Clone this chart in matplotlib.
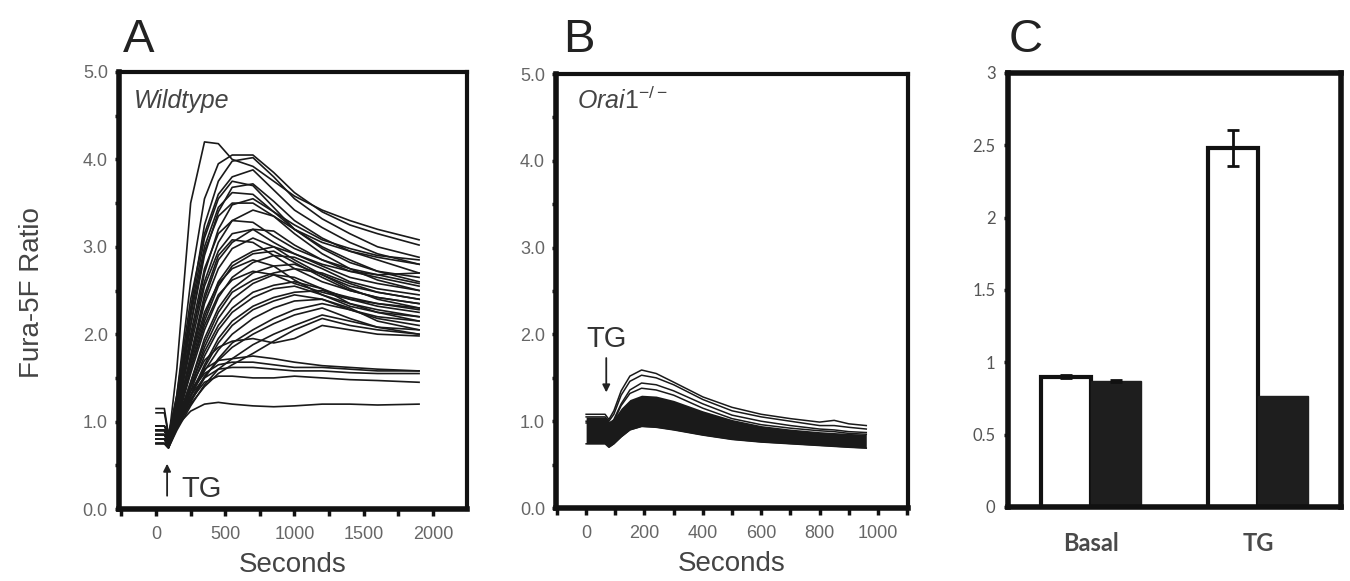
import numpy as np
import matplotlib
matplotlib.use("Agg")
import matplotlib.pyplot as plt
from matplotlib.ticker import MultipleLocator, FormatStrFormatter

plt.rcParams['font.family'] = ['Liberation Sans', 'DejaVu Sans']
plt.rcParams['mathtext.fontset'] = 'custom'
plt.rcParams['mathtext.it'] = 'Liberation Sans:italic'
plt.rcParams['mathtext.rm'] = 'Liberation Sans'

# ---------------- data ----------------
# panel A: wildtype traces, Fura-5F ratio sampled at t_wt (s)
t_wt = [0, 60, 90, 150, 250, 350, 450, 550, 700, 850, 1000, 1200, 1400, 1600, 1900]
wt_traces = [
    [0.85, 0.85, 0.78, 1.60, 3.50, 4.20, 4.18, 4.00, 3.92, 3.75, 3.58, 3.42, 3.30, 3.20, 3.08],
    [0.90, 0.90, 0.80, 1.30, 2.60, 3.55, 3.95, 4.05, 4.05, 3.85, 3.62, 3.40, 3.25, 3.15, 3.02],
    [0.80, 0.80, 0.74, 1.20, 2.30, 3.25, 3.75, 3.98, 4.02, 3.80, 3.55, 3.32, 3.15, 3.00, 2.88],
    [0.95, 0.95, 0.85, 1.30, 2.40, 3.15, 3.60, 3.80, 3.88, 3.65, 3.42, 3.22, 3.05, 2.92, 2.80],
    [0.85, 0.85, 0.78, 1.20, 2.10, 2.90, 3.40, 3.68, 3.72, 3.52, 3.30, 3.10, 2.95, 2.85, 2.70],
    [0.80, 0.80, 0.72, 1.10, 1.90, 2.70, 3.20, 3.48, 3.55, 3.40, 3.20, 3.00, 2.85, 2.72, 2.60],
    [0.90, 0.90, 0.82, 1.15, 1.95, 2.60, 3.05, 3.30, 3.42, 3.35, 3.15, 2.92, 2.75, 2.62, 2.50],
    [0.75, 0.75, 0.70, 1.10, 2.00, 2.75, 3.15, 3.30, 3.28, 3.12, 2.98, 2.85, 2.75, 2.68, 2.58],
    [0.85, 0.85, 0.78, 1.05, 1.75, 2.40, 2.85, 3.05, 3.20, 3.18, 3.02, 2.85, 2.72, 2.65, 2.55],
    [0.80, 0.80, 0.74, 1.05, 1.70, 2.35, 2.75, 2.98, 3.10, 3.00, 2.85, 2.68, 2.55, 2.48, 2.40],
    [0.90, 0.90, 0.80, 1.10, 1.65, 2.20, 2.60, 2.82, 2.95, 3.00, 2.92, 2.78, 2.65, 2.58, 2.50],
    [0.75, 0.75, 0.70, 1.00, 1.60, 2.15, 2.55, 2.78, 2.92, 2.95, 2.82, 2.65, 2.50, 2.42, 2.35],
    [0.85, 0.85, 0.76, 1.00, 1.55, 2.05, 2.42, 2.65, 2.82, 2.90, 2.88, 2.75, 2.60, 2.52, 2.45],
    [0.95, 0.95, 0.88, 1.10, 1.70, 2.25, 2.58, 2.75, 2.85, 2.78, 2.62, 2.45, 2.32, 2.25, 2.20],
    [0.80, 0.80, 0.72, 0.98, 1.45, 1.95, 2.30, 2.52, 2.70, 2.78, 2.80, 2.68, 2.52, 2.40, 2.30],
    [0.85, 0.85, 0.78, 1.00, 1.45, 1.90, 2.25, 2.48, 2.62, 2.70, 2.75, 2.70, 2.58, 2.48, 2.40],
    [0.75, 0.75, 0.70, 0.95, 1.40, 1.85, 2.18, 2.40, 2.58, 2.68, 2.65, 2.52, 2.40, 2.32, 2.25],
    [0.90, 0.90, 0.82, 1.00, 1.40, 1.80, 2.10, 2.30, 2.48, 2.56, 2.60, 2.52, 2.35, 2.25, 2.15],
    [0.80, 0.80, 0.72, 0.95, 1.35, 1.75, 2.05, 2.25, 2.42, 2.52, 2.55, 2.45, 2.35, 2.28, 2.20],
    [0.85, 0.85, 0.76, 0.95, 1.30, 1.65, 1.95, 2.15, 2.32, 2.42, 2.48, 2.50, 2.42, 2.35, 2.30],
    [0.75, 0.75, 0.70, 0.92, 1.28, 1.62, 1.90, 2.10, 2.28, 2.38, 2.45, 2.40, 2.28, 2.18, 2.10],
    [0.90, 0.90, 0.80, 0.98, 1.30, 1.58, 1.82, 2.00, 2.18, 2.30, 2.38, 2.40, 2.30, 2.15, 2.05],
    [0.80, 0.80, 0.74, 0.92, 1.22, 1.50, 1.72, 1.90, 2.05, 2.18, 2.28, 2.35, 2.28, 2.20, 2.15],
    [0.85, 0.85, 0.78, 0.95, 1.25, 1.52, 1.70, 1.85, 2.00, 2.12, 2.22, 2.30, 2.18, 2.08, 2.00],
    [0.75, 0.75, 0.70, 0.90, 1.18, 1.42, 1.60, 1.72, 1.88, 2.00, 2.10, 2.22, 2.15, 2.08, 2.05],
    [0.90, 0.90, 0.82, 0.95, 1.20, 1.40, 1.55, 1.65, 1.78, 1.92, 2.05, 2.18, 2.10, 2.05, 2.00],
    [0.85, 0.85, 0.76, 1.20, 2.20, 3.00, 3.45, 3.62, 3.60, 3.40, 3.25, 3.08, 2.98, 2.90, 2.85],
    [0.80, 0.80, 0.72, 1.15, 2.10, 2.95, 3.35, 3.50, 3.50, 3.35, 3.20, 3.05, 2.95, 2.88, 2.80],
    [0.95, 0.95, 0.86, 1.25, 2.25, 3.10, 3.55, 3.75, 3.70, 3.45, 3.20, 2.98, 2.82, 2.72, 2.65],
    [0.85, 0.85, 0.78, 1.10, 1.85, 2.55, 2.95, 3.15, 3.20, 3.05, 2.92, 2.80, 2.72, 2.68, 2.70],
    [0.80, 0.80, 0.74, 1.05, 1.75, 2.45, 2.90, 3.08, 3.05, 2.90, 2.75, 2.60, 2.50, 2.42, 2.35],
    [0.90, 0.90, 0.82, 1.05, 1.60, 2.10, 2.45, 2.62, 2.72, 2.68, 2.58, 2.48, 2.40, 2.35, 2.28],
    [1.15, 1.15, 0.85, 1.05, 1.35, 1.55, 1.65, 1.68, 1.68, 1.65, 1.62, 1.62, 1.60, 1.58, 1.58],
    [0.85, 0.85, 0.78, 1.00, 1.30, 1.50, 1.60, 1.62, 1.62, 1.60, 1.58, 1.58, 1.56, 1.55, 1.55],
    [0.80, 0.80, 0.74, 0.95, 1.25, 1.45, 1.52, 1.52, 1.50, 1.50, 1.52, 1.50, 1.48, 1.47, 1.45],
    [1.10, 1.10, 0.85, 0.95, 1.12, 1.20, 1.22, 1.20, 1.18, 1.17, 1.18, 1.20, 1.20, 1.19, 1.20],
    [0.90, 0.90, 0.80, 1.00, 1.35, 1.60, 1.70, 1.72, 1.75, 1.72, 1.68, 1.64, 1.62, 1.60, 1.58],
    [0.85, 0.85, 0.76, 1.00, 1.40, 1.70, 1.85, 1.92, 1.95, 1.90, 1.95, 2.10, 2.05, 2.00, 1.98],
]

# panel B: Orai1-/- traces sampled at t_ko (s)
t_ko = [0, 65, 78, 95, 120, 150, 190, 240, 300, 400, 500, 600, 700, 800, 850, 900, 960]
ko_traces = [
    [1.08, 1.08, 1.02, 1.12, 1.35, 1.52, 1.59, 1.55, 1.45, 1.28, 1.16, 1.08, 1.03, 0.99, 1.01, 0.97, 0.95],
    [1.05, 1.05, 1.00, 1.08, 1.30, 1.46, 1.53, 1.50, 1.42, 1.25, 1.12, 1.05, 1.00, 0.95, 0.95, 0.93, 0.91],
    [1.00, 1.00, 0.95, 1.02, 1.20, 1.36, 1.44, 1.42, 1.35, 1.20, 1.07, 1.00, 0.95, 0.91, 0.90, 0.88, 0.87],
    [0.98, 0.98, 0.92, 1.00, 1.18, 1.32, 1.38, 1.36, 1.30, 1.15, 1.03, 0.96, 0.92, 0.89, 0.88, 0.86, 0.85],
]
ko_band_low = [0.74, 0.74, 0.70, 0.74, 0.82, 0.90, 0.94, 0.93, 0.90, 0.84, 0.79, 0.76, 0.74, 0.72, 0.71, 0.70, 0.69]
ko_band_high = [1.05, 1.05, 1.00, 1.03, 1.15, 1.25, 1.30, 1.29, 1.24, 1.12, 1.02, 0.95, 0.91, 0.88, 0.87, 0.86, 0.85]

# panel C: bar summary
categories = ['Basal', 'TG']
wt_mean = [0.90, 2.48]
wt_err = [0.01, 0.125]
ko_mean = [0.87, 0.77]
ko_err = [0.008, 0.0]

tg_time_wt = 80
tg_time_ko = 69

# ---------------- figure ----------------
fig = plt.figure(figsize=(13.5, 5.81), dpi=100)
axA = fig.add_axes([0.0881, 0.1239, 0.2578, 0.7522])
axB = fig.add_axes([0.4119, 0.1256, 0.2607, 0.7470])
axC = fig.add_axes([0.7467, 0.1274, 0.2467, 0.7470])

tick_col = '#666666'
line_col = '#1a1a1a'


def style_trace_axes(ax, xmaj, xmin):
    for s in ['left', 'bottom']:
        ax.spines[s].set_linewidth(4)
    for s in ['top', 'right']:
        ax.spines[s].set_linewidth(3)
    for s in ax.spines.values():
        s.set_color('#111111')
    ax.set_ylim(0, 5)
    ax.yaxis.set_major_locator(MultipleLocator(1))
    ax.yaxis.set_minor_locator(MultipleLocator(0.5))
    ax.yaxis.set_major_formatter(FormatStrFormatter('%.1f'))
    ax.xaxis.set_major_locator(MultipleLocator(xmaj))
    ax.xaxis.set_minor_locator(MultipleLocator(xmin))
    ax.tick_params(axis='y', which='both', direction='out', length=3, width=2.5,
                   color='#111111', labelcolor=tick_col, labelsize=13, pad=5)
    ax.tick_params(axis='x', which='both', direction='out', length=5, width=2.5,
                   color='#111111', labelcolor=tick_col, labelsize=13, pad=7)
    ax.set_xlabel('Seconds', fontsize=20, color='#444444', labelpad=7)


# panel A
for tr in wt_traces:
    axA.plot(t_wt, tr, color=line_col, lw=1.2)
axA.set_xlim(-268, 2246)
style_trace_axes(axA, 500, 250)
axA.text(0.043, 0.918, 'Wildtype', transform=axA.transAxes, fontsize=18,
         style='italic', color='#444444', va='baseline')
axA.annotate('', xy=(tg_time_wt, 0.55), xytext=(tg_time_wt, 0.12),
             arrowprops=dict(arrowstyle='-|>', lw=1.3, color='#222222', mutation_scale=11))
axA.text(181, 0.14, 'TG', fontsize=21, color='#333333', va='baseline')

# panel B
axB.fill_between(t_ko, ko_band_low, ko_band_high, color=line_col, lw=0)
for tr in ko_traces:
    axB.plot(t_ko, tr, color=line_col, lw=1.1)
axB.plot(t_ko, ko_band_low, color=line_col, lw=1.1)
axB.set_xlim(-103, 1103)
style_trace_axes(axB, 200, 100)
axB.text(0.06, 0.92, r'$\mathit{Orai1}^{\mathit{-/-}}$', transform=axB.transAxes,
         fontsize=18, color='#444444', va='baseline')
axB.annotate('', xy=(tg_time_ko, 1.30), xytext=(tg_time_ko, 1.76),
             arrowprops=dict(arrowstyle='-|>', lw=1.3, color='#222222', mutation_scale=11))
axB.text(0, 1.86, 'TG', fontsize=21, color='#333333', va='baseline')

fig.text(0.024, 1 - 293 / 581, 'Fura-5F Ratio', rotation=90, fontsize=20,
         color='#444444', ha='center', va='center')

# panel C
x = np.arange(len(categories))
w = 0.3
ebar = dict(ecolor='#111111', elinewidth=2, capsize=4, capthick=2)
axC.bar(x - w / 2, wt_mean, w, color='white', edgecolor='#111111', linewidth=3,
        yerr=wt_err, error_kw=ebar)
axC.bar(x + w / 2, ko_mean, w, color='#1e1e1e', edgecolor='#1e1e1e', linewidth=1)
# only the basal knockout bar shows a (tiny) error bar
axC.errorbar(x[:1] + w / 2, ko_mean[:1], yerr=ko_err[:1], fmt='none', **ebar)
axC.set_xlim(-0.5, 1.5)
axC.set_ylim(0, 3)
axC.yaxis.set_major_locator(MultipleLocator(0.5))
axC.yaxis.set_major_formatter(plt.FuncFormatter(lambda v, p: f'{v:g}'))
axC.set_xticks(x)
axC.set_xticklabels(categories)
for s in axC.spines.values():
    s.set_linewidth(4)
    s.set_color('#111111')
axC.tick_params(axis='y', direction='out', length=3, width=2.5, color='#111111',
                labelcolor='#555555', labelsize=12, pad=6)
axC.tick_params(axis='x', length=0, pad=18)
for lab in axC.get_yticklabels():
    lab.set_family(['Lato', 'DejaVu Sans'])
for lab in axC.get_xticklabels():
    lab.set_family(['Lato', 'DejaVu Sans'])
    lab.set_fontsize(17)
    lab.set_fontweight('bold')
    lab.set_color('#4a4a4a')

# panel letters
for xl, letter in [(123, 'A'), (563, 'B'), (1009, 'C')]:
    fig.text(xl / 1350, 1 - 52 / 581, letter, fontsize=34, color='#222222', va='baseline')

fig.savefig('out.png', dpi=100)
